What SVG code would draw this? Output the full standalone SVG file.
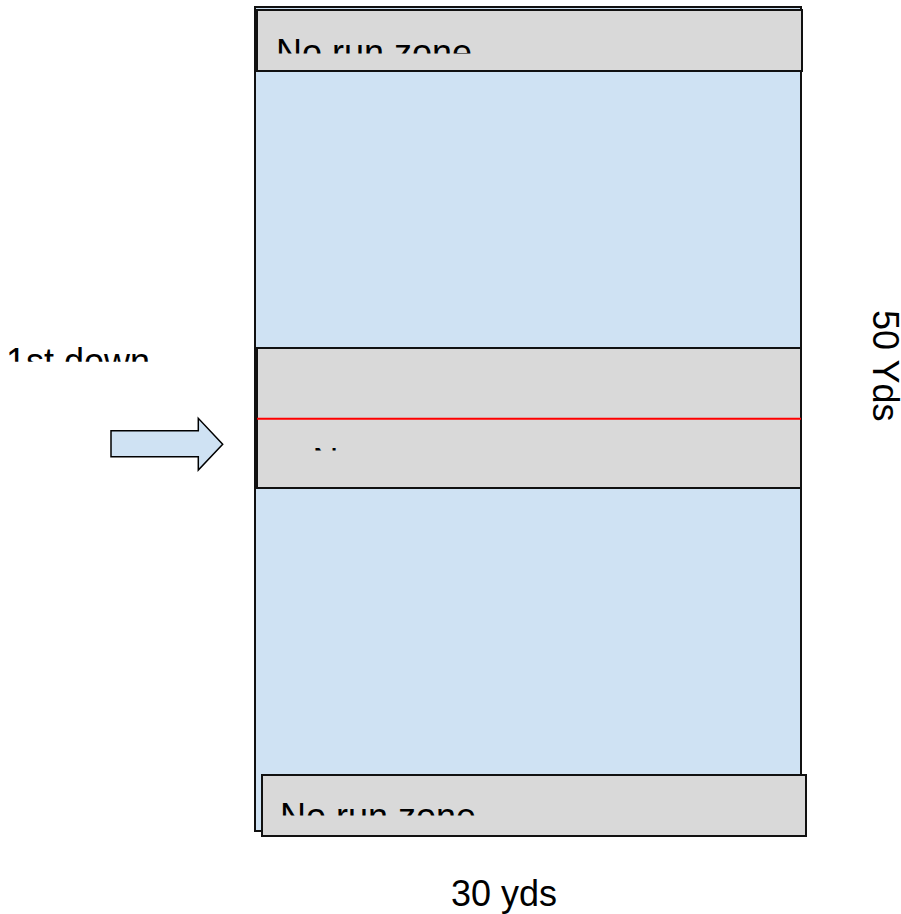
<svg xmlns="http://www.w3.org/2000/svg" width="901" height="914" viewBox="0 0 901 914">
<style>
.field{fill:#cfe2f3;stroke:#111;stroke-width:2}
.zone{fill:#d9d9d9;stroke:#111;stroke-width:2}
.lbl{font-family:"Liberation Sans",Arial,sans-serif;font-size:36px;fill:#000}
.blk{fill:#cfe2f3;stroke:#000;stroke-width:1.5;stroke-linejoin:miter}
</style>
<defs>
<clipPath id="cTop"><rect x="250" y="0" width="560" height="53.5"/></clipPath>
<clipPath id="cMid"><rect x="250" y="420" width="560" height="30.5"/></clipPath>
<clipPath id="cBot"><rect x="250" y="780" width="560" height="35.5"/></clipPath>
<clipPath id="cDown"><rect x="0" y="330" width="200" height="31.8"/></clipPath>
</defs>
<rect width="901" height="914" fill="#fff"/>
<g id="field">
<rect class="field" x="255" y="7" width="546" height="824"/>
</g>
<g id="top-zone">
<rect class="zone" x="257" y="10" width="545" height="61"/>
<text class="lbl" x="276" y="65" clip-path="url(#cTop)">No run zone</text>
</g>
<g id="mid-zone">
<rect class="zone" x="257" y="348" width="544" height="140"/>
<line x1="257" y1="418.7" x2="801" y2="418.7" stroke="#f00" stroke-width="2"/>
<text class="lbl" x="312.5" y="474" clip-path="url(#cMid)">No run zone</text>
</g>
<g id="bottom-zone">
<rect class="zone" x="262" y="775" width="544" height="61"/>
<text class="lbl" x="280" y="829" clip-path="url(#cBot)">No run zone</text>
</g>
<g id="first-down">
<text class="lbl" x="6" y="374" clip-path="url(#cDown)">1st down</text>
</g>
<g id="connectors">
<polygon class="blk" points="111,430.7 198.3,430.7 198.3,418.3 222.7,444.3 198.3,470 198.3,456.7 111,456.7"/>
</g>
<g id="label-50">
<text class="lbl" transform="translate(872.5,310) rotate(90)" x="0" y="0">50 Yds</text>
</g>
<g id="label-30">
<text class="lbl" x="451" y="906">30 yds</text>
</g>
</svg>
